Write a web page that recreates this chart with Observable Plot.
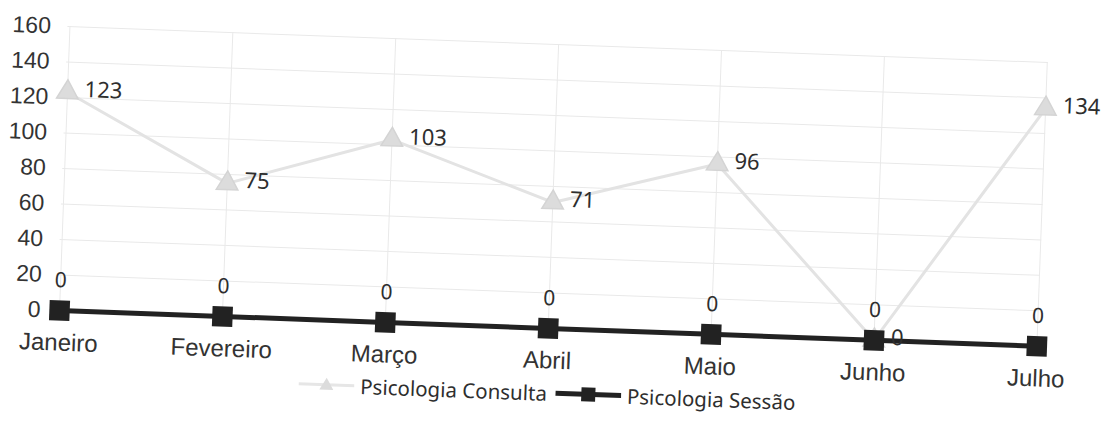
<!DOCTYPE html>
<html>
<head>
<meta charset="utf-8">
<script src="https://cdn.jsdelivr.net/npm/d3@7"></script>
<script src="https://cdn.jsdelivr.net/npm/@observablehq/plot@0.6"></script>
<style>
  html, body { margin: 0; padding: 0; background: #ffffff; overflow: hidden; }
  #wrap { width: 1107px; height: 422px; transform: rotate(2.1deg); transform-origin: 553.5px 211px; }
  #legend { height: 34px; display: flex; justify-content: center; align-items: center; gap: 8px;
            font-family: "Noto Sans", sans-serif; font-size: 20.5px; color: #2e2e2e; }
  .item { display: flex; align-items: center; gap: 6px; }
</style>
</head>
<body>
<div id="wrap">
  <div id="chart"></div>
  <div id="legend"></div>
</div>
<script>
const months = ["Janeiro", "Fevereiro", "Março", "Abril", "Maio", "Junho", "Julho"];
const consulta = [123, 75, 103, 71, 96, 0, 134];
const sessao = [0, 0, 0, 0, 0, 0, 0];
const yTicks = [0, 20, 40, 60, 80, 100, 120, 140, 160];
const seriesNames = ["Psicologia Consulta", "Psicologia Sessão"];

const cons = months.map((m, i) => ({month: m, value: consulta[i]}));
const sess = months.map((m, i) => ({month: m, value: sessao[i]}));

const chart = Plot.plot({
  width: 1107,
  height: 376,
  marginLeft: 61,
  marginRight: 65,
  marginTop: 44,
  marginBottom: 48,
  style: {fontFamily: "Liberation Sans, Arial, sans-serif", color: "#333", background: "transparent", overflow: "visible"},
  x: {type: "point", domain: months, padding: 0, label: null},
  y: {domain: [0, 160], label: null},
  marks: [
    Plot.gridY(yTicks, {stroke: "#e9e9e9", strokeOpacity: 1}),
    Plot.gridX(months, {stroke: "#e9e9e9", strokeOpacity: 1}),
    Plot.axisY(yTicks, {tickSize: 0, tickPadding: 17, fontSize: 23, label: null, fill: "#333"}),
    Plot.axisX({tickSize: 0, tickPadding: 23, fontSize: 24, label: null, fill: "#333"}),
    Plot.line(cons, {x: "month", y: "value", stroke: "#e3e3e3", strokeWidth: 3}),
    Plot.dot(cons, {x: "month", y: "value", symbol: "triangle", r: 8, fill: "#dcdcdc", stroke: "#d4d4d4"}),
    Plot.line(sess, {x: "month", y: "value", stroke: "#222", strokeWidth: 5}),
    Plot.dot(sess, {x: "month", y: "value", symbol: "square", r: 11.5, fill: "#222"}),
    Plot.text(cons, {x: "month", y: "value", text: d => String(d.value), dx: 17, dy: -3, textAnchor: "start",
                     fontFamily: "Noto Sans", fontSize: 22, fill: "#2e2e2e"}),
    Plot.text(sess, {x: "month", y: "value", text: d => String(d.value), dy: -30,
                     fontFamily: "Noto Sans", fontSize: 21, fill: "#2e2e2e"})
  ]
});
document.getElementById("chart").appendChild(chart);

// Legend
const legend = document.getElementById("legend");
const sym = [
  `<svg width="56" height="24"><line x1="0" y1="12" x2="56" y2="12" stroke="#e6e6e6" stroke-width="3"/><path d="M28,5 L35,17 L21,17 Z" fill="#dcdcdc"/></svg>`,
  `<svg width="66" height="24"><line x1="0" y1="12" x2="66" y2="12" stroke="#222" stroke-width="5"/><rect x="26" y="5" width="14" height="14" fill="#222"/></svg>`
];
seriesNames.forEach((name, i) => {
  const it = document.createElement("div");
  it.className = "item";
  it.innerHTML = sym[i] + `<span>${name}</span>`;
  legend.appendChild(it);
});
</script>
</body>
</html>
